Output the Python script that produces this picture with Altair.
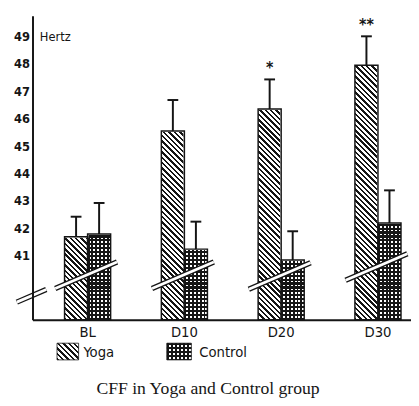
import altair as alt
import pandas as pd

# ---------------- data ----------------
CATS = ["BL", "D10", "D20", "D30"]
GROUPS = ["Yoga", "Control"]
YOGA = [41.7, 45.55, 46.35, 47.95]
YOGA_ERR = [0.73, 1.13, 1.08, 1.05]
CONTROL = [41.8, 41.25, 40.85, 42.2]
CONTROL_ERR = [1.13, 1.0, 1.05, 1.19]
SIG = ["", "", "*", "**"]
BREAK_AT = [40.3, 40.3, 40.27, 40.6]
AXIS_BREAK_AT = [39.55]
Y_TICKS = [41, 42, 43, 44, 45, 46, 47, 48, 49]
UNIT = "Hertz"
TITLE = "CFF in Yoga and Control group"

# ---------------- layout / style ----------------
YMIN, YMAX = 38.68, 49.75
W, H = 386, 310
P_IN, P_OUT, ALIGN = 0.524, 0.2173, 0.762
STEP = W / (len(CATS) - P_IN + 2 * P_OUT)
SUB_W = STEP * (1 - P_IN) / 2
INK = "#151515"
NARROW = "Liberation Sans Narrow, DejaVu Sans Condensed, Arial Narrow, sans-serif"
SERIF = "Liberation Serif, DejaVu Serif, Times New Roman, serif"
BREAK_PATH = "M-1,0.43L1,-0.43"


def _stops(tmax, dt, frac, dark, light):
    out = []
    k = 0
    while True:
        a = k * dt
        if a > 1:
            break
        b = min(a + frac * dt, 1.0)
        c = min((k + 1) * dt, 1.0)
        out += [(a, dark), (b, dark), (b, light), (c, light)]
        if c >= min(1.0, tmax + dt):
            break
        k += 1
    return [{"offset": round(o, 6), "color": col} for o, col in out]


def diag_grad(w, h, period=5.5, frac=0.45, dark=INK, light="white"):
    denom = w * w + h * h
    tmax = (w + h) * w / denom
    dt = period * w / denom
    return {"gradient": "linear", "x1": 0, "y1": 1, "x2": 1, "y2": 1 - h / w,
            "stops": _stops(tmax, dt, frac, dark, light)}


def hstripe_grad(h, period=4.0, frac=0.55, dark=INK, light="white"):
    return {"gradient": "linear", "x1": 0, "y1": 0, "x2": 0, "y2": 1,
            "stops": _stops(1, period / h, frac, dark, light)}


def vstripe_grad(n=6, frac=0.5, dark=INK, light="rgba(255,255,255,0)"):
    return {"gradient": "linear", "x1": 0, "y1": 0, "x2": 1, "y2": 0,
            "stops": _stops(1, 1.0 / n, frac, dark, light)}


rows = []
for i, c in enumerate(CATS):
    rows.append(dict(cat=c, group="Yoga", value=YOGA[i], hi=YOGA[i] + YOGA_ERR[i], sig=SIG[i]))
    rows.append(dict(cat=c, group="Control", value=CONTROL[i], hi=CONTROL[i] + CONTROL_ERR[i], sig=""))
df = pd.DataFrame(rows)
df_cat = pd.DataFrame({"cat": CATS, "brk": BREAK_AT})
df_ax = pd.DataFrame({"brk": AXIS_BREAK_AT})
df_leg = pd.DataFrame({"label": GROUPS})

X_SCALE = alt.Scale(domain=CATS, paddingInner=P_IN, paddingOuter=P_OUT, align=ALIGN, round=False)
X_AXIS = alt.Axis(title=None, labelAngle=0, ticks=False, domainColor=INK, domainWidth=2,
                  labelFont=NARROW, labelFontSize=15, labelColor=INK, labelPadding=5,
                  grid=False)
Y_SCALE = alt.Scale(domain=[YMIN, YMAX], nice=False, zero=False)
Y_AXIS = alt.Axis(title=UNIT, values=Y_TICKS, ticks=False, grid=False, domainColor=INK,
                  domainWidth=2, labelFont=NARROW, labelFontSize=13, labelFontWeight="bold",
                  labelColor=INK, labelPadding=3, titleAngle=0, titleX=7, titleY=21,
                  titleAlign="left", titleBaseline="middle", titleFont=NARROW,
                  titleFontSize=13, titleFontWeight="normal", titleColor=INK, zindex=1)

xe = alt.X("cat:N", scale=X_SCALE, axis=X_AXIS)
xo = alt.XOffset("group:N", scale=alt.Scale(domain=GROUPS, paddingInner=0, paddingOuter=0))


def Yq(field):
    return alt.Y(field, type="quantitative", scale=Y_SCALE, axis=Y_AXIS)


base = alt.Chart(df).transform_calculate(top=str(YMAX), bottom=str(YMIN))

yoga_pat = base.transform_filter("datum.group == 'Yoga'").mark_bar(
    fill=diag_grad(SUB_W, H), strokeWidth=0
).encode(x=xe, xOffset=xo, y=Yq("top"), y2=alt.Y2("bottom:Q"))

ctrl_pat_h = base.transform_filter("datum.group == 'Control'").mark_bar(
    fill=hstripe_grad(H), strokeWidth=0
).encode(x=xe, xOffset=xo, y=Yq("top"), y2=alt.Y2("bottom:Q"))

ctrl_pat_v = base.transform_filter("datum.group == 'Control'").mark_bar(
    fill=vstripe_grad(), strokeWidth=0
).encode(x=xe, xOffset=xo, y=Yq("top"), y2=alt.Y2("bottom:Q"))

mask = base.mark_bar(fill="white", stroke="white", strokeWidth=2).encode(
    x=xe, xOffset=xo, y=Yq("top"), y2=alt.Y2("value:Q"))

outline = base.mark_bar(fillOpacity=0, stroke=INK, strokeWidth=1.5).encode(
    x=xe, xOffset=xo, y=Yq("value"), y2=alt.Y2("bottom:Q"))

brk_common = dict(shape=BREAK_PATH, filled=False, size=63 * 63, xOffset=-1.5, strokeCap="butt", opacity=1)
brk_black = alt.Chart(df_cat).mark_point(stroke=INK, strokeWidth=5.5, **brk_common).encode(x=xe, y=Yq("brk"))
brk_white = alt.Chart(df_cat).mark_point(stroke="white", strokeWidth=2.8, **brk_common).encode(x=xe, y=Yq("brk"))

ax_common = dict(shape=BREAK_PATH, filled=False, size=30 * 30, strokeCap="butt", opacity=1)
axbrk_black = alt.Chart(df_ax).mark_point(stroke=INK, strokeWidth=5.5, **ax_common).encode(
    x=alt.value(-1), y=Yq("brk"))
axbrk_white = alt.Chart(df_ax).mark_point(stroke="white", strokeWidth=2.8, **ax_common).encode(
    x=alt.value(-1), y=Yq("brk"))

stem = base.mark_rule(color=INK, strokeWidth=2).encode(
    x=xe, xOffset=xo, y=Yq("value"), y2=alt.Y2("hi:Q"))
cap = base.mark_tick(orient="horizontal", size=11, thickness=2, color=INK, opacity=1).encode(
    x=xe, xOffset=xo, y=Yq("hi"))
stars = base.transform_filter("datum.sig != ''").mark_text(
    dy=-6.5, baseline="alphabetic", fontSize=16, fontWeight="bold", color=INK, font=NARROW
).encode(x=xe, xOffset=xo, y=Yq("hi"), text="sig:N")

# ---------------- hand-made legend ----------------
leg = alt.Chart(df_leg)
sw_y, sw_y2 = 334, 351
leg_yoga = leg.transform_filter("datum.label == 'Yoga'").mark_rect(
    fill=diag_grad(22, 17), stroke=INK, strokeWidth=0.8
).encode(x=alt.value(25), x2=alt.value(47), y=alt.value(sw_y), y2=alt.value(sw_y2))
leg_ctrl_h = leg.transform_filter("datum.label == 'Control'").mark_rect(
    fill=hstripe_grad(17)
).encode(x=alt.value(137), x2=alt.value(162), y=alt.value(sw_y), y2=alt.value(sw_y2))
leg_ctrl_v = leg.transform_filter("datum.label == 'Control'").mark_rect(
    fill=vstripe_grad(), stroke=INK, strokeWidth=0.8
).encode(x=alt.value(137), x2=alt.value(162), y=alt.value(sw_y), y2=alt.value(sw_y2))
leg_txt_y = leg.transform_filter("datum.label == 'Yoga'").mark_text(
    align="left", baseline="middle", font=NARROW, fontSize=15, color=INK
).encode(x=alt.value(52), y=alt.value(343), text="label:N")
leg_txt_c = leg.transform_filter("datum.label == 'Control'").mark_text(
    align="left", baseline="middle", font=NARROW, fontSize=15, color=INK
).encode(x=alt.value(170), y=alt.value(343), text="label:N")

chart = alt.layer(
    yoga_pat, ctrl_pat_h, ctrl_pat_v, mask, outline,
    brk_black, brk_white, axbrk_black, axbrk_white,
    stem, cap, stars,
    leg_yoga, leg_ctrl_h, leg_ctrl_v, leg_txt_y, leg_txt_c,
).properties(
    width=W, height=H,
    background="white",
    autosize=alt.AutoSizeParams(type="none"),
    padding={"left": 25, "top": 4, "right": 0, "bottom": 76},
    title=alt.TitleParams(TITLE, orient="bottom", anchor="middle", font=SERIF, fontSize=18,
                          fontWeight="normal", color=INK, offset=20, dx=-14),
).configure_view(stroke=None)

chart.save("out.html", embed_options={"renderer": "svg", "actions": False})
